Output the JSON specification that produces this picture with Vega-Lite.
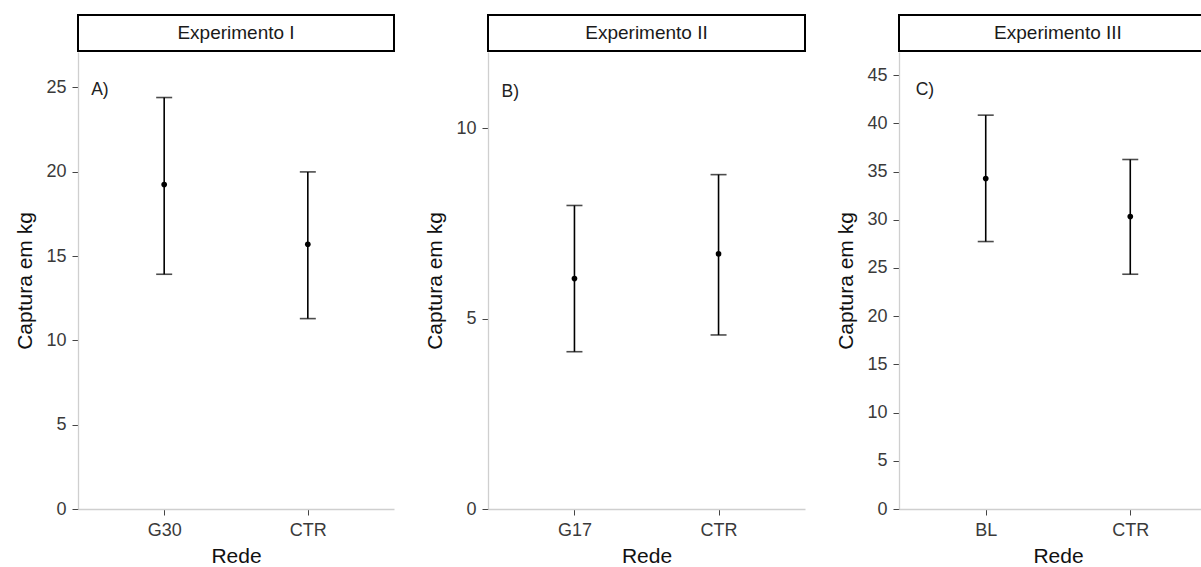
{
  "$schema": "https://vega.github.io/schema/vega-lite/v6.json",
  "padding": {"left": 14, "top": 14, "right": 0, "bottom": 0},
  "background": "white",
  "config": {
    "font": "Liberation Sans",
    "view": {"stroke": null},
    "axis": {
      "grid": false,
      "labelFontSize": 18,
      "titleFontSize": 21,
      "labelColor": "#3a3a3a",
      "titleColor": "#111111",
      "titleFontWeight": "normal",
      "domainColor": "#cfcfcf",
      "domainWidth": 1.3,
      "tickColor": "#444444",
      "tickSize": 6,
      "tickWidth": 1,
      "labelPadding": 6
    },
    "axisX": {"labelAngle": 0, "titlePadding": 6},
    "axisY": {"titlePadding": 10}
  },
  "hconcat": [
    {
      "spacing": 0,
      "vconcat": [
        {
          "width": 316, "height": 36,
          "data": {"values": [{"exp": "Experimento I"}]},
          "view": {"stroke": "black", "strokeWidth": 2, "fill": "white"},
          "mark": {"type": "text", "fontSize": 19, "color": "#1a1a1a"},
          "encoding": {"text": {"field": "exp"}}
        },
        {
          "width": 316, "height": 457,
          "data": {"values": [
            {"Rede": "G30", "media": 19.24, "inf": 13.92, "sup": 24.40},
            {"Rede": "CTR", "media": 15.70, "inf": 11.29, "sup": 19.99}
          ]},
          "encoding": {
            "x": {"field": "Rede", "type": "nominal", "scale": {"type": "point", "padding": 0.6, "domain": ["G30", "CTR"]}, "axis": {"title": "Rede"}}
          },
          "layer": [
            {"mark": {"type": "rule", "color": "black", "strokeWidth": 1.6},
             "encoding": {"y": {"field": "inf", "type": "quantitative", "scale": {"domain": [0, 27.1], "nice": false, "zero": false}, "axis": {"title": "Captura em kg", "values": [0, 5, 10, 15, 20, 25]}}, "y2": {"field": "sup"}}},
            {"mark": {"type": "tick", "color": "black", "size": 16, "thickness": 1.6},
             "encoding": {"y": {"field": "sup", "type": "quantitative"}}},
            {"mark": {"type": "tick", "color": "black", "size": 16, "thickness": 1.6},
             "encoding": {"y": {"field": "inf", "type": "quantitative"}}},
            {"mark": {"type": "circle", "color": "black", "size": 32, "opacity": 1},
             "encoding": {"y": {"field": "media", "type": "quantitative"}}},
            {"data": {"values": [{"Rede": "G30", "valor": 24.83, "rotulo": "A)"}]},
             "mark": {"type": "text", "fontSize": 17.5, "color": "#222222", "align": "left", "dx": -73},
             "encoding": {"y": {"field": "valor", "type": "quantitative"}, "text": {"field": "rotulo"}}}
          ]
        }
      ]
    },
    {
      "spacing": 0,
      "vconcat": [
        {
          "width": 317, "height": 36,
          "data": {"values": [{"exp": "Experimento II"}]},
          "view": {"stroke": "black", "strokeWidth": 2, "fill": "white"},
          "mark": {"type": "text", "fontSize": 19, "color": "#1a1a1a"},
          "encoding": {"text": {"field": "exp"}}
        },
        {
          "width": 317, "height": 457,
          "data": {"values": [
            {"Rede": "G17", "media": 6.05, "inf": 4.13, "sup": 7.97},
            {"Rede": "CTR", "media": 6.70, "inf": 4.57, "sup": 8.78}
          ]},
          "encoding": {
            "x": {"field": "Rede", "type": "nominal", "scale": {"type": "point", "padding": 0.6, "domain": ["G17", "CTR"]}, "axis": {"title": "Rede"}}
          },
          "layer": [
            {"mark": {"type": "rule", "color": "black", "strokeWidth": 1.6},
             "encoding": {"y": {"field": "inf", "type": "quantitative", "scale": {"domain": [0, 12.0], "nice": false, "zero": false}, "axis": {"title": "Captura em kg", "values": [0, 5, 10]}}, "y2": {"field": "sup"}}},
            {"mark": {"type": "tick", "color": "black", "size": 16, "thickness": 1.6},
             "encoding": {"y": {"field": "sup", "type": "quantitative"}}},
            {"mark": {"type": "tick", "color": "black", "size": 16, "thickness": 1.6},
             "encoding": {"y": {"field": "inf", "type": "quantitative"}}},
            {"mark": {"type": "circle", "color": "black", "size": 32, "opacity": 1},
             "encoding": {"y": {"field": "media", "type": "quantitative"}}},
            {"data": {"values": [{"Rede": "G17", "valor": 10.94, "rotulo": "B)"}]},
             "mark": {"type": "text", "fontSize": 17.5, "color": "#222222", "align": "left", "dx": -73},
             "encoding": {"y": {"field": "valor", "type": "quantitative"}, "text": {"field": "rotulo"}}}
          ]
        }
      ]
    },
    {
      "spacing": 0,
      "vconcat": [
        {
          "width": 318, "height": 36,
          "data": {"values": [{"exp": "Experimento III"}]},
          "view": {"stroke": "black", "strokeWidth": 2, "fill": "white"},
          "mark": {"type": "text", "fontSize": 19, "color": "#1a1a1a"},
          "encoding": {"text": {"field": "exp"}}
        },
        {
          "width": 318, "height": 457,
          "data": {"values": [
            {"Rede": "BL", "media": 34.28, "inf": 27.74, "sup": 40.85},
            {"Rede": "CTR", "media": 30.34, "inf": 24.35, "sup": 36.25}
          ]},
          "encoding": {
            "x": {"field": "Rede", "type": "nominal", "scale": {"type": "point", "padding": 0.6, "domain": ["BL", "CTR"]}, "axis": {"title": "Rede"}}
          },
          "layer": [
            {"mark": {"type": "rule", "color": "black", "strokeWidth": 1.6},
             "encoding": {"y": {"field": "inf", "type": "quantitative", "scale": {"domain": [0, 47.4], "nice": false, "zero": false}, "axis": {"title": "Captura em kg", "values": [0, 5, 10, 15, 20, 25, 30, 35, 40, 45]}}, "y2": {"field": "sup"}}},
            {"mark": {"type": "tick", "color": "black", "size": 16, "thickness": 1.6},
             "encoding": {"y": {"field": "sup", "type": "quantitative"}}},
            {"mark": {"type": "tick", "color": "black", "size": 16, "thickness": 1.6},
             "encoding": {"y": {"field": "inf", "type": "quantitative"}}},
            {"mark": {"type": "circle", "color": "black", "size": 32, "opacity": 1},
             "encoding": {"y": {"field": "media", "type": "quantitative"}}},
            {"data": {"values": [{"Rede": "BL", "valor": 43.5, "rotulo": "C)"}]},
             "mark": {"type": "text", "fontSize": 17.5, "color": "#222222", "align": "left", "dx": -70},
             "encoding": {"y": {"field": "valor", "type": "quantitative"}, "text": {"field": "rotulo"}}}
          ]
        }
      ]
    }
  ],
  "spacing": 29
}
